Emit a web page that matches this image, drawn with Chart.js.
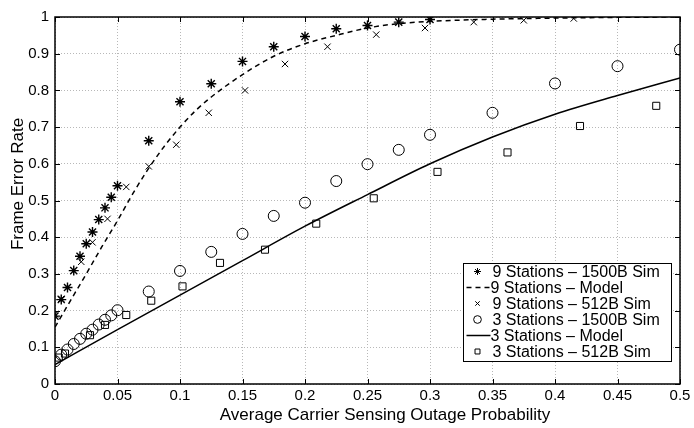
<!DOCTYPE html>
<html>
<head>
<meta charset="utf-8">
<script src="https://cdn.jsdelivr.net/npm/chart.js@4.4.0/dist/chart.umd.min.js"></script>
<style>
  html, body { margin: 0; padding: 0; background: #fff; }
  #wrap { width: 694px; height: 428px; }
</style>
</head>
<body>
<div id="wrap"><canvas id="chart-fer"></canvas></div>
<script>
// tick labels
const xTicks = [0, 0.05, 0.1, 0.15, 0.2, 0.25, 0.3, 0.35, 0.4, 0.45, 0.5];
const xTickLabels = ['0', '0.05', '0.1', '0.15', '0.2', '0.25', '0.3', '0.35', '0.4', '0.45', '0.5'];
const yTicks = [0, 0.1, 0.2, 0.3, 0.4, 0.5, 0.6, 0.7, 0.8, 0.9, 1];
const yTickLabels = ['0', '0.1', '0.2', '0.3', '0.4', '0.5', '0.6', '0.7', '0.8', '0.9', '1'];

const xTitle = 'Average Carrier Sensing Outage Probability';
const yTitle = 'Frame Error Rate';

// 9 stations, 1500B sim (stars)
const sim9LongX = [0, 0.005, 0.01, 0.015, 0.02, 0.025, 0.03, 0.035, 0.04, 0.045, 0.05, 0.075, 0.1, 0.125, 0.15, 0.175, 0.2, 0.225, 0.25, 0.275, 0.3];
const sim9LongY = [0.185, 0.23, 0.263, 0.309, 0.348, 0.382, 0.414, 0.448, 0.48, 0.509, 0.54, 0.663, 0.769, 0.818, 0.879, 0.919, 0.947, 0.968, 0.977, 0.986, 0.993];

// 9 stations, model (dashed)
const model9X = [0, 0.0125, 0.025, 0.0375, 0.05, 0.0625, 0.075, 0.0875, 0.1, 0.1125, 0.125, 0.15, 0.175, 0.2, 0.225, 0.25, 0.275, 0.3, 0.35, 0.4, 0.45, 0.5];
const model9Y = [0.155, 0.228, 0.3, 0.374, 0.445, 0.52, 0.588, 0.648, 0.70, 0.745, 0.782, 0.843, 0.893, 0.927, 0.95, 0.97, 0.982, 0.988, 0.994, 0.997, 0.999, 1.0];

// 9 stations, 512B sim (crosses)
const sim9ShortX = [0, 0.005, 0.021, 0.03, 0.042, 0.057, 0.075, 0.097, 0.123, 0.152, 0.184, 0.218, 0.257, 0.296, 0.335, 0.375, 0.415];
const sim9ShortY = [0.19, 0.232, 0.333, 0.386, 0.45, 0.537, 0.593, 0.652, 0.739, 0.80, 0.872, 0.919, 0.952, 0.970, 0.986, 0.991, 0.996];

// 3 stations, 1500B sim (circles)
const sim3LongX = [0, 0.005, 0.01, 0.015, 0.02, 0.025, 0.03, 0.035, 0.04, 0.045, 0.05, 0.075, 0.1, 0.125, 0.15, 0.175, 0.2, 0.225, 0.25, 0.275, 0.3, 0.35, 0.4, 0.45, 0.5];
const sim3LongY = [0.062, 0.08, 0.094, 0.109, 0.123, 0.137, 0.148, 0.162, 0.175, 0.187, 0.201, 0.252, 0.308, 0.36, 0.409, 0.458, 0.494, 0.553, 0.599, 0.638, 0.679, 0.739, 0.819, 0.866, 0.911];

// 3 stations, model (solid)
const model3X = [0, 0.05, 0.1, 0.15, 0.2, 0.25, 0.3, 0.35, 0.4, 0.45, 0.5];
const model3Y = [0.053, 0.148, 0.242, 0.336, 0.43, 0.516, 0.6, 0.673, 0.735, 0.786, 0.834];

// 3 stations, 512B sim (squares)
const sim3ShortX = [0.003, 0.008, 0.028, 0.04, 0.057, 0.077, 0.102, 0.132, 0.168, 0.209, 0.255, 0.306, 0.362, 0.42, 0.481];
const sim3ShortY = [0.072, 0.083, 0.133, 0.161, 0.188, 0.227, 0.266, 0.33, 0.366, 0.437, 0.506, 0.578, 0.631, 0.703, 0.758];

const seriesLabels = [
    '9 Stations \u2013 1500B Sim',
    '9 Stations \u2013 Model',
    '9 Stations \u2013 512B Sim',
    '3 Stations \u2013 1500B Sim',
    '3 Stations \u2013 Model',
    '3 Stations \u2013 512B Sim'
];

const FONT = 'Liberation Sans, Arial, sans-serif';
Chart.defaults.font.family = FONT;
Chart.defaults.color = '#000';

function pts(xs, ys) {
    return xs.map((x, i) => ({ x: x, y: ys[i] }));
}

function simSet(label, xs, ys, style, radius, bw) {
    return {
        label: label,
        data: pts(xs, ys),
        showLine: false,
        pointStyle: style,
        pointRadius: radius,
        pointBorderWidth: bw,
        pointBorderColor: '#000',
        pointBackgroundColor: 'rgba(0,0,0,0)'
    };
}

function modelSet(label, xs, ys, dash) {
    return {
        label: label,
        data: pts(xs, ys),
        showLine: true,
        borderColor: '#000',
        borderWidth: 1.5,
        borderDash: dash,
        pointRadius: 0,
        cubicInterpolationMode: 'monotone'
    };
}

// box, inward ticks, axis titles and the legend box
const framePlugin = {
    id: 'frame',
    afterDraw(chart) {
        const { ctx, chartArea: a, scales } = chart;
        ctx.save();
        ctx.strokeStyle = '#000';
        ctx.lineWidth = 1;
        ctx.setLineDash([]);
        ctx.beginPath();
        xTicks.forEach(v => {
            const px = Math.round(scales.x.getPixelForValue(v)) + 0.5;
            ctx.moveTo(px, a.bottom); ctx.lineTo(px, a.bottom - 5);
            ctx.moveTo(px, a.top); ctx.lineTo(px, a.top + 5);
        });
        yTicks.forEach(v => {
            const py = Math.round(scales.y.getPixelForValue(v)) + 0.5;
            ctx.moveTo(a.left, py); ctx.lineTo(a.left + 5, py);
            ctx.moveTo(a.right, py); ctx.lineTo(a.right - 5, py);
        });
        ctx.stroke();
        ctx.lineWidth = 1.5;
        ctx.strokeRect(a.left, a.top, a.right - a.left, a.bottom - a.top);

        // axis titles
        ctx.fillStyle = '#000';
        ctx.font = '17px ' + FONT;
        ctx.textAlign = 'center';
        ctx.textBaseline = 'middle';
        ctx.fillText(xTitle, 385, 415);
        ctx.save();
        ctx.translate(18, 184);
        ctx.rotate(-Math.PI / 2);
        ctx.fillText(yTitle, 0, 0);
        ctx.restore();

        // legend
        const boxW = 208, rowH = 16, boxH = 98;
        const bx = Math.round(a.right - 9 - boxW) + 0.5;
        const by = Math.round(a.bottom - 23 - boxH) + 0.5;
        ctx.fillStyle = '#fff';
        ctx.fillRect(bx, by, boxW, boxH);
        ctx.lineWidth = 1;
        ctx.strokeRect(bx, by, boxW, boxH);
        ctx.font = '16px ' + FONT;
        ctx.textAlign = 'left';
        ctx.textBaseline = 'middle';
        chart.data.datasets.forEach((ds, i) => {
            const cy = by + 8 + rowH * i;
            const sx = bx + 3, mx = bx + 14;
            let tx = bx + 29;
            if (ds.showLine) {
                ctx.save();
                ctx.strokeStyle = '#000';
                ctx.lineWidth = 1.5;
                ctx.setLineDash(ds.borderDash || []);
                ctx.beginPath();
                ctx.moveTo(sx, cy); ctx.lineTo(sx + 24, cy);
                ctx.stroke();
                ctx.restore();
                tx = bx + 27;
            } else {
                ctx.save();
                ctx.strokeStyle = '#000';
                ctx.fillStyle = 'rgba(0,0,0,0)';
                ctx.lineWidth = 1;
                Chart.helpers.drawPoint(ctx, { pointStyle: ds.pointStyle, radius: ds.pointRadius * 0.7, borderWidth: 1 }, mx, cy);
                ctx.restore();
            }
            ctx.fillStyle = '#000';
            ctx.fillText(ds.label, tx, cy + 1);
        });
        ctx.restore();
    }
};

new Chart(document.getElementById('chart-fer'), {
    type: 'scatter',
    data: {
        datasets: [
            simSet(seriesLabels[0], sim9LongX, sim9LongY, 'star', 5, 1.4),
            modelSet(seriesLabels[1], model9X, model9Y, [5, 4]),
            simSet(seriesLabels[2], sim9ShortX, sim9ShortY, 'crossRot', 4.5, 1),
            simSet(seriesLabels[3], sim3LongX, sim3LongY, 'circle', 5.5, 1),
            modelSet(seriesLabels[4], model3X, model3Y, []),
            simSet(seriesLabels[5], sim3ShortX, sim3ShortY, 'rect', 5, 1)
        ]
    },
    options: {
        responsive: true,
        maintainAspectRatio: false,
        animation: false,
        layout: { padding: { top: 17, right: 14, left: 0, bottom: 0 } },
        plugins: { legend: { display: false }, tooltip: { enabled: false } },
        scales: {
            x: {
                type: 'linear',
                min: 0,
                max: 0.5,
                afterBuildTicks: s => { s.ticks = xTicks.map(v => ({ value: v })); },
                afterFit: s => { s.height = 44; },
                grid: { color: '#b8b8b8', lineWidth: 1, drawTicks: false },
                border: { display: false, dash: [1, 2] },
                ticks: {
                    callback: (v, i) => xTickLabels[i],
                    font: { size: 15 },
                    color: '#000',
                    padding: 3,
                    maxRotation: 0
                }
            },
            y: {
                type: 'linear',
                min: 0,
                max: 1,
                afterBuildTicks: s => { s.ticks = yTicks.map(v => ({ value: v })); },
                afterFit: s => { s.width = 55; },
                grid: { color: '#b8b8b8', lineWidth: 1, drawTicks: false },
                border: { display: false, dash: [1, 2] },
                ticks: {
                    callback: (v, i) => yTickLabels[i],
                    font: { size: 15 },
                    color: '#000',
                    padding: 6
                }
            }
        }
    },
    plugins: [framePlugin]
});
</script>
</body>
</html>
